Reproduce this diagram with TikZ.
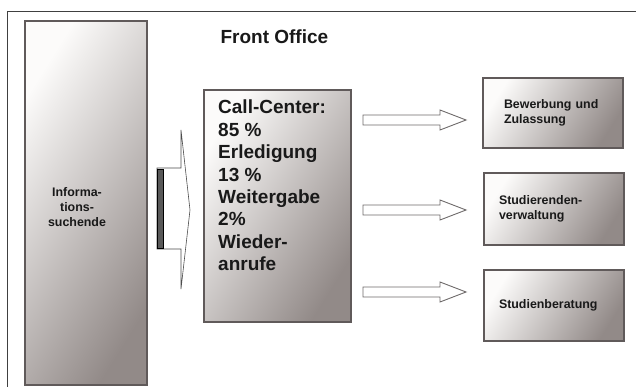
\documentclass[tikz,border=0pt]{standalone}
\usepackage{fontspec}
\setmainfont{Liberation Sans}
\usetikzlibrary{positioning}
\definecolor{boxedge}{RGB}{96,90,90}
\definecolor{boxlight}{RGB}{252,251,250}
\definecolor{boxdark}{RGB}{146,138,136}
\definecolor{arrowedge}{RGB}{110,106,106}
\definecolor{ink}{RGB}{25,25,25}
\begin{document}
\begin{tikzpicture}[x=1pt,y=-1pt,
  panel/.style={draw=boxedge, line width=1.6pt, top color=boxlight, bottom color=boxdark, shading angle=58, inner sep=0pt},
  smalltxt/.style={text=ink, font=\fontsize{12.4}{15}\selectfont\bfseries},
  bigtxt/.style={text=ink, font=\fontsize{19}{22.4}\selectfont\bfseries},
  subbox/.style={panel, smalltxt, minimum width=140pt, minimum height=71pt, align=left, inner xsep=15pt, text width=110pt}]
\useasboundingbox (0,0) rectangle (636,387);
\draw [line width=0.9pt, black!75] (7,387)--(7,11)--(636,11);
\node (seekers) [panel, minimum width=122pt, minimum height=364pt] at (86,203) {};
\node (seekerstxt) [smalltxt, align=center] at (77,207) {Informa-\\tions-\\suchende};
\node (fronttitle) [bigtxt, anchor=west] at (217,37) {Front Office};
\node (callcenter) [panel, minimum width=147pt, minimum height=232pt] at (277.5,206) {};
\node (calltxt) [bigtxt, align=left, anchor=north west, inner sep=0pt] at (218,100) {Call-Center:\\85 \%\\Erledigung\\13 \%\\Weitergabe\\2\%\\Wieder-\\anrufe};
\node (admission) [subbox, inner xsep=21pt, text width=98pt, minimum height=70pt] at (553,113) {Bewerbung und\\Zulassung};
\node (records) [subbox, minimum height=72pt] at (554,209) {Studierenden-\\verwaltung};
\node (advice) [subbox] at (554,305.5) {Studienberatung};
\draw [fill=white, draw=black!70, line width=0.6pt] (157,168)--(181,168)--(181,130)--(190,210)--(181,289)--(181,249)--(157,249)--cycle;
\draw [fill=black!65, draw=black, line width=0.6pt] (157,169)--(163,169)--(163,248)--(157,248)--cycle;
\foreach \yc in {120,210,292}
  \draw [fill=white, draw=arrowedge, line width=0.9pt] (363,\yc-5)--(440,\yc-5)--(440,\yc-10)--(466,\yc)--(440,\yc+10)--(440,\yc+5)--(363,\yc+5)--cycle;
\end{tikzpicture}
\end{document}
